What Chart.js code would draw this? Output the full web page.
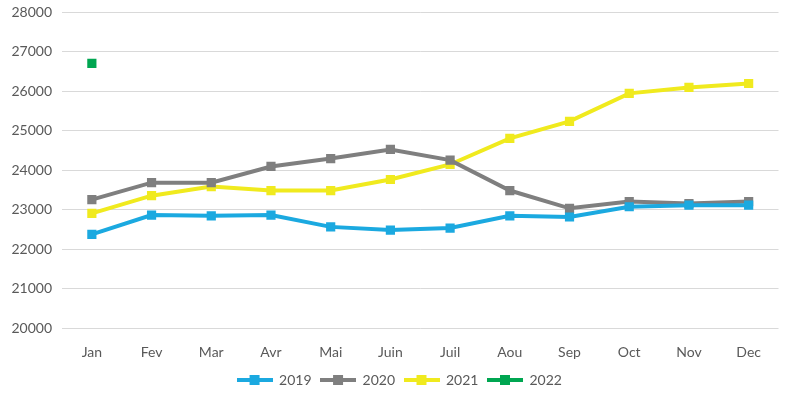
<!DOCTYPE html>
<html>
<head>
<meta charset="utf-8">
<script src="https://cdn.jsdelivr.net/npm/chart.js@4/dist/chart.umd.min.js"></script>
<style>
  html, body { margin: 0; padding: 0; background: #fff; }
  #wrap { width: 785px; height: 403px; }
</style>
</head>
<body>
<div id="wrap"><canvas id="chart"></canvas></div>
<script>
const months = ['Jan', 'Fev', 'Mar', 'Avr', 'Mai', 'Juin', 'Juil', 'Aou', 'Sep', 'Oct', 'Nov', 'Dec'];
const values2019 = [22370, 22860, 22840, 22860, 22560, 22480, 22530, 22840, 22810, 23070, 23110, 23110];
const values2020 = [23250, 23680, 23680, 24090, 24290, 24520, 24250, 23480, 23030, 23200, 23150, 23200];
const values2021 = [22900, 23350, 23580, 23480, 23480, 23760, 24140, 24800, 25230, 25940, 26090, 26190];
const values2022 = [26700, null, null, null, null, null, null, null, null, null, null, null];

const textColor = '#595959';
const fontFamily = 'Lato, "Open Sans", sans-serif';

const legendSample = (color) => {
  const c = document.createElement('canvas');
  c.width = 36;
  c.height = 10;
  const ctx = c.getContext('2d');
  ctx.fillStyle = color;
  ctx.fillRect(0, 3, 36, 4);
  ctx.fillRect(13, 0, 10, 10);
  return c;
};

const makeSeries = (label, data, color) => ({
  label,
  data,
  borderColor: color,
  backgroundColor: color,
  borderWidth: 4,
  pointStyle: 'rect',
  pointRadius: 6.5,
  pointHoverRadius: 6.5,
  pointBorderWidth: 0,
  tension: 0,
  legendImage: legendSample(color),
});

const datasets = [
  makeSeries('2019', values2019, '#1BA9E0'),
  makeSeries('2020', values2020, '#7F7F7F'),
  makeSeries('2021', values2021, '#F0EA1E'),
  makeSeries('2022', values2022, '#00A651'),
];

// legend in the original is centred under the plot area, not the canvas
const shiftLegend = {
  id: 'shiftLegend',
  afterLayout: (chart) => {
    chart.legend.left += 9;
    chart.legend.right += 9;
  },
};

new Chart(document.getElementById('chart').getContext('2d'), {
  type: 'line',
  data: { labels: months, datasets },
  plugins: [shiftLegend],
  options: {
    responsive: true,
    maintainAspectRatio: false,
    animation: false,
    layout: { padding: { top: 12, right: 4, left: 0, bottom: 6 } },
    plugins: {
      tooltip: { enabled: false },
      legend: {
        position: 'bottom',
        labels: {
          color: textColor,
          font: { family: fontFamily, size: 14 },
          usePointStyle: true,
          pointStyleWidth: 35,
          padding: 9,
          generateLabels: (chart) => chart.data.datasets.map((ds, i) => ({
            text: ds.label,
            pointStyle: ds.legendImage,
            fillStyle: ds.borderColor,
            strokeStyle: ds.borderColor,
            fontColor: textColor,
            lineWidth: 0,
            datasetIndex: i,
            hidden: false,
          })),
        },
      },
    },
    scales: {
      x: {
        offset: true,
        grid: { display: false },
        border: { display: false },
        ticks: { color: textColor, font: { family: fontFamily, size: 14 }, padding: 8 },
        afterFit: (scale) => { scale.height = 36; },
      },
      y: {
        min: 20000,
        max: 28000,
        grid: { color: '#D9D9D9', lineWidth: 1, drawTicks: false },
        border: { display: false },
        ticks: {
          stepSize: 1000,
          color: textColor,
          font: { family: fontFamily, size: 14 },
          padding: 10,
          callback: (value) => String(value),
        },
        afterFit: (scale) => {
          scale.width = 62;
          scale.paddingTop = 0;
          scale.paddingBottom = 0;
        },
      },
    },
  },
});
</script>
</body>
</html>
